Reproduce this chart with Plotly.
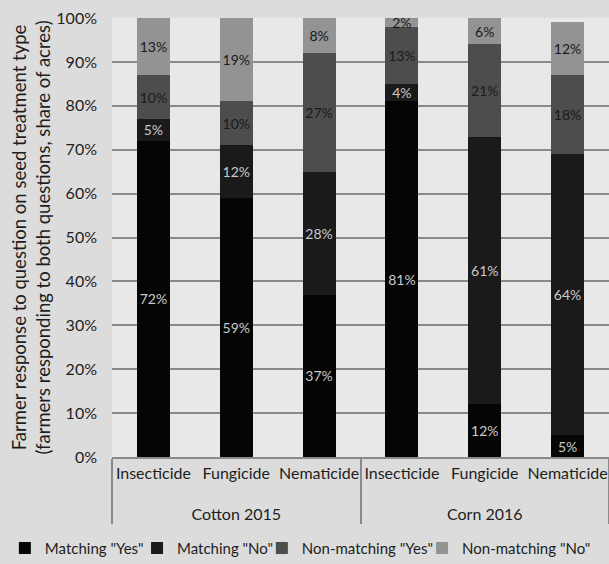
import plotly.graph_objects as go

# Crop/year groups and seed treatment types
groups = ["Cotton 2015"] * 3 + ["Corn 2016"] * 3
treatments = ["Insecticide", "Fungicide", "Nematicide"] * 2

# Share of acres (%) for each response type
matching_yes = [72, 59, 37, 81, 12, 5]
matching_no = [5, 12, 28, 4, 61, 64]
nonmatching_yes = [10, 10, 27, 13, 21, 18]
nonmatching_no = [13, 19, 8, 2, 6, 12]

# name, values, bar colour, label colour, legend id, legend left edge (container fraction)
series = [
    ('Matching "Yes"', matching_yes, "#050505", "#c9c9c9", "legend", 0.008),
    ('Matching "No"', matching_no, "#1a1a1a", "#c9c9c9", "legend2", 0.225),
    ('Non-matching "Yes"', nonmatching_yes, "#4d4d4d", "#1a1a1a", "legend3", 0.430),
    ('Non-matching "No"', nonmatching_no, "#939393", "#1a1a1a", "legend4", 0.693),
]

FONT = "Lato, 'Open Sans', sans-serif"
TXT = "#1e1e1e"

# group labels sit one line below the treatment labels
group_labels = ["<br>" + g for g in groups]

fig = go.Figure()
legend_layout = {}
for name, vals, color, tcolor, leg, lx in series:
    fig.add_trace(go.Bar(
        name=name,
        x=[group_labels, treatments],
        y=vals,
        text=[f"{v}%" for v in vals],
        textposition="inside",
        insidetextanchor="middle",
        textangle=0,
        textfont=dict(family=FONT, size=14, color=tcolor),
        marker=dict(color=color, line=dict(width=0)),
        legend=leg,
        hoverinfo="skip",
    ))
    legend_layout[leg] = dict(
        orientation="h",
        xref="container", x=lx, xanchor="left",
        yref="container", y=0.028, yanchor="middle",
        font=dict(family=FONT, size=15, color=TXT),
        itemwidth=30,
        bgcolor="rgba(0,0,0,0)",
    )

fig.update_layout(
    width=609,
    height=564,
    barmode="stack",
    bargap=0.6,
    margin=dict(l=112, r=0, t=18, b=107),
    paper_bgcolor="#dcdcdc",
    plot_bgcolor="#e8e8e8",
    font=dict(family=FONT, size=16, color=TXT),
    uniformtext=dict(minsize=14, mode="show"),
    showlegend=True,
    **legend_layout,
)

fig.update_yaxes(
    range=[0, 100],
    dtick=10,
    ticksuffix="%",
    showgrid=True,
    gridcolor="#8a8a8a",
    gridwidth=1.5,
    zeroline=False,
    showline=False,
    ticklabelstandoff=14,
    tickfont=dict(family=FONT, size=16, color=TXT),
    title=dict(
        text="Farmer response to question on seed treatment type<br>"
             "(farmers responding to both questions, share of acres)",
        font=dict(family=FONT, size=18.5, color=TXT),
        standoff=0,
    ),
)

fig.update_xaxes(
    type="multicategory",
    tickangle=0,
    showline=True,
    linecolor="#8a8a8a",
    linewidth=1.5,
    showdividers=True,
    dividercolor="#8a8a8a",
    dividerwidth=1.5,
    ticklabelstandoff=1,
    tickfont=dict(family=FONT, size=16, color=TXT),
)

fig.write_html("out.html")
